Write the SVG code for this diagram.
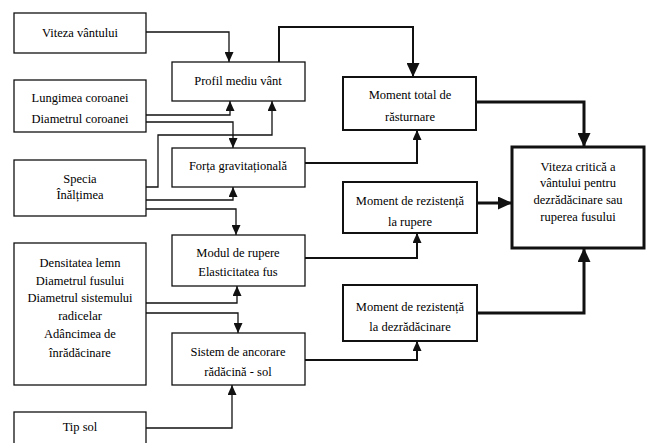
<svg xmlns="http://www.w3.org/2000/svg" width="646" height="443" viewBox="0 0 646 443">
<defs>
<marker id="a" markerUnits="userSpaceOnUse" markerWidth="10" markerHeight="9" refX="10" refY="4.5" orient="auto"><path d="M0,0 L10,4.5 L0,9 z" fill="#111"/></marker>
<marker id="b" markerUnits="userSpaceOnUse" markerWidth="14" markerHeight="13" refX="14" refY="6.5" orient="auto"><path d="M0,0 L14,6.5 L0,13 z" fill="#111"/></marker>
</defs>
<rect width="646" height="443" fill="#fff"/>
<g id="connectors" fill="none" stroke="#111">
<g stroke-width="1.3">
<path d="M146,32 H229 V62" marker-end="url(#a)"/>
<path d="M146,115 H230 V101" marker-end="url(#a)"/>
<path d="M146,122 H233 V148" marker-end="url(#a)"/>
<path d="M146,187 H158 V135 H272 V101" marker-end="url(#a)"/>
<path d="M146,200 H233 V187" marker-end="url(#a)"/>
<path d="M146,209 H236 V235" marker-end="url(#a)"/>
<path d="M146,303 H237 V286" marker-end="url(#a)"/>
<path d="M146,313 H238 V333" marker-end="url(#a)"/>
<path d="M146,428 H232 V385" marker-end="url(#a)"/>
</g>
<g stroke-width="2">
<path d="M279,62 V27 H413 V77" marker-end="url(#b)"/>
<path d="M305,163 H417 V130" marker-end="url(#a)"/>
<path d="M305,258 H417 V233" marker-end="url(#a)"/>
<path d="M305,360 H417 V341" marker-end="url(#a)"/>
</g>
<g stroke-width="3">
<path d="M476,102 H584 V147" marker-end="url(#b)"/>
<path d="M477,203 H512" marker-end="url(#b)"/>
<path d="M477,313 H584 V248" marker-end="url(#b)"/>
</g>
</g>
<g id="nodes" text-anchor="middle">
<g id="n_viteza"><rect x="14" y="13" width="132" height="40" fill="#fff" stroke="#111" stroke-width="1.3"/><text x="80" y="37" font-family="Liberation Serif" font-size="12.5">Viteza vântului</text></g>
<g id="n_lungimea"><rect x="14" y="80" width="132" height="52" fill="#fff" stroke="#111" stroke-width="1.3"/><text x="80" y="102" font-family="Liberation Serif" font-size="12.5">Lungimea coroanei</text><text x="80" y="123" font-family="Liberation Serif" font-size="12.5">Diametrul coroanei</text></g>
<g id="n_specia"><rect x="14" y="160" width="132" height="56" fill="#fff" stroke="#111" stroke-width="1.3"/><text x="80" y="183" font-family="Liberation Serif" font-size="12.5">Specia</text><text x="80" y="199" font-family="Liberation Serif" font-size="12.5">Înălțimea</text></g>
<g id="n_densitatea"><rect x="14" y="243" width="132" height="142" fill="#fff" stroke="#111" stroke-width="1.3"/><text x="80" y="267" font-family="Liberation Serif" font-size="12.5">Densitatea lemn</text><text x="80" y="285" font-family="Liberation Serif" font-size="12.5">Diametrul fusului</text><text x="80" y="302" font-family="Liberation Serif" font-size="12.5">Diametrul sistemului</text><text x="80" y="320" font-family="Liberation Serif" font-size="12.5">radicelar</text><text x="80" y="338" font-family="Liberation Serif" font-size="12.5">Adâncimea de</text><text x="80" y="357" font-family="Liberation Serif" font-size="12.5">înrădăcinare</text></g>
<g id="n_tipsol"><rect x="14" y="412" width="132" height="40" fill="#fff" stroke="#111" stroke-width="1.3"/><text x="80" y="431" font-family="Liberation Serif" font-size="12.5">Tip sol</text></g>
<g id="n_profil"><rect x="172" y="62" width="133" height="39" fill="#fff" stroke="#111" stroke-width="1.3"/><text x="238" y="85" font-family="Liberation Serif" font-size="12.5">Profil mediu vânt</text></g>
<g id="n_forta"><rect x="172" y="148" width="133" height="39" fill="#fff" stroke="#111" stroke-width="1.3"/><text x="238" y="170" font-family="Liberation Serif" font-size="12.5">Forța gravitațională</text></g>
<g id="n_modul"><rect x="172" y="235" width="133" height="51" fill="#fff" stroke="#111" stroke-width="1.3"/><text x="238" y="257" font-family="Liberation Serif" font-size="12.5">Modul de rupere</text><text x="238" y="276" font-family="Liberation Serif" font-size="12.5">Elasticitatea fus</text></g>
<g id="n_sistem"><rect x="172" y="333" width="133" height="52" fill="#fff" stroke="#111" stroke-width="1.3"/><text x="238" y="356" font-family="Liberation Serif" font-size="12.5">Sistem de ancorare</text><text x="238" y="376" font-family="Liberation Serif" font-size="12.5">rădăcină - sol</text></g>
<g id="n_mtotal"><rect x="343" y="77" width="133" height="53" fill="#fff" stroke="#111" stroke-width="2"/><text x="410" y="99" font-family="Liberation Serif" font-size="12.5">Moment total de</text><text x="410" y="121" font-family="Liberation Serif" font-size="12.5">răsturnare</text></g>
<g id="n_mrupere"><rect x="343" y="182" width="134" height="51" fill="#fff" stroke="#111" stroke-width="2"/><text x="410" y="205" font-family="Liberation Serif" font-size="12.5">Moment de rezistență</text><text x="410" y="226" font-family="Liberation Serif" font-size="12.5">la rupere</text></g>
<g id="n_mdezr"><rect x="343" y="285" width="134" height="56" fill="#fff" stroke="#111" stroke-width="2"/><text x="410" y="311" font-family="Liberation Serif" font-size="12.5">Moment de rezistență</text><text x="410" y="331" font-family="Liberation Serif" font-size="12.5">la dezrădăcinare</text></g>
<g id="n_critica"><rect x="512" y="147" width="132" height="101" fill="#fff" stroke="#111" stroke-width="3"/><text x="578" y="171" font-family="Liberation Serif" font-size="12.5">Viteza critică a</text><text x="578" y="187" font-family="Liberation Serif" font-size="12.5">vântului pentru</text><text x="578" y="204" font-family="Liberation Serif" font-size="12.5">dezrădăcinare sau</text><text x="578" y="221" font-family="Liberation Serif" font-size="12.5">ruperea fusului</text></g>
</g>
</svg>
